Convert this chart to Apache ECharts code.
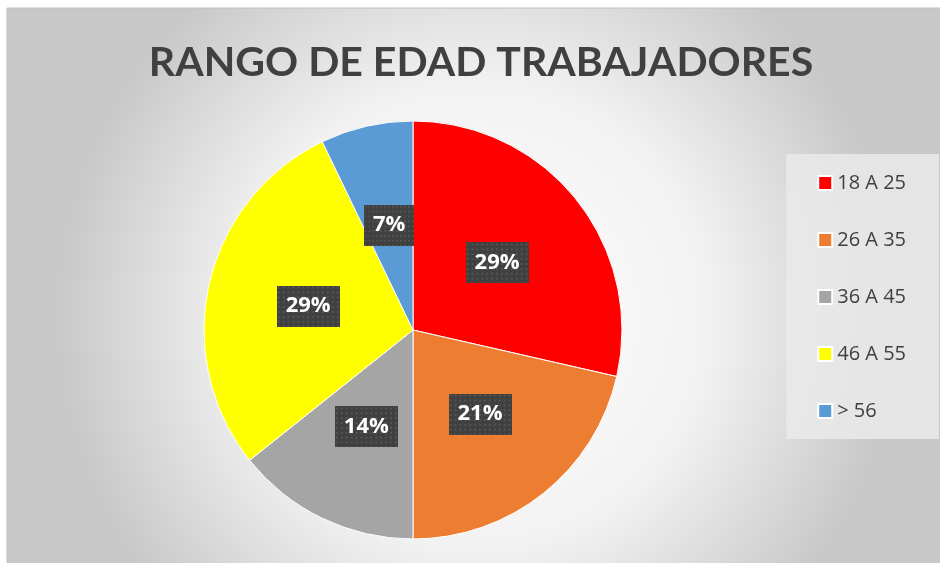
<!DOCTYPE html>
<html>
<head>
<meta charset="utf-8">
<script src="https://cdn.jsdelivr.net/npm/echarts@6/dist/echarts.min.js"></script>
<style>
  html, body { margin: 0; padding: 0; background: #fff; }
  #chart { width: 940px; height: 563px; }
</style>
</head>
<body>
<div id="chart"></div>
<script>
const categories = ['18 A 25', '26 A 35', '36 A 45', '46 A 55', '> 56'];
const values = [4, 3, 2, 4, 1];
const colors = ['#ff0000', '#ed7d31', '#a5a5a5', '#ffff00', '#5b9bd5'];

// dotted dark texture for the data labels
function labelTexture() {
  const c = document.createElement('canvas');
  c.width = 64; c.height = 42;
  const ctx = c.getContext('2d');
  ctx.fillStyle = '#404040';
  ctx.fillRect(0, 0, c.width, c.height);
  ctx.fillStyle = '#555555';
  for (let y = 1; y < c.height; y += 5) {
    for (let x = 1; x < c.width; x += 5) {
      ctx.fillRect(x, y, 2, 2);
    }
  }
  return c;
}

const chartDom = document.getElementById('chart');
const myChart = echarts.init(chartDom);
const option = {
  backgroundColor: '#ffffff',
  graphic: [
    {
      type: 'rect',
      z: -10,
      shape: { x: 7, y: 8, width: 940, height: 560 },
      style: {
        fill: new echarts.graphic.RadialGradient(0.5, 0.55, 0.75, [
          { offset: 0, color: '#ffffff' },
          { offset: 0.55, color: '#f2f2f2' },
          { offset: 1, color: '#c8c8c8' }
        ]),
        stroke: '#c0c0c0',
        lineWidth: 1
      }
    }
  ],
  title: {
    text: 'RANGO DE EDAD TRABAJADORES',
    left: 476,
    textAlign: 'center',
    top: 37,
    textStyle: {
      fontFamily: 'Lato',
      fontWeight: 'bold',
      fontSize: 41,
      color: '#404040'
    }
  },
  legend: {
    orient: 'vertical',
    right: 1,
    top: 154,
    padding: [18, 33, 17, 31],
    backgroundColor: 'rgba(234,234,234,0.85)',
    icon: 'rect',
    itemWidth: 14,
    itemHeight: 14,
    itemGap: 35,
    textStyle: {
      fontFamily: 'Open Sans',
      fontSize: 20,
      lineHeight: 22,
      color: '#404040'
    },
    data: categories
  },
  series: [
    {
      type: 'pie',
      center: [413, 330],
      radius: [0, 209],
      startAngle: 90,
      clockwise: true,
      avoidLabelOverlap: false,
      itemStyle: { borderColor: '#ffffff', borderWidth: 1 },
      label: {
        show: true,
        position: 'inside',
        formatter: p => Math.round(p.percent) + '%',
        fontFamily: 'Open Sans',
        fontWeight: 'bold',
        fontSize: 22,
        lineHeight: 24,
        color: '#ffffff',
        backgroundColor: { image: labelTexture() },
        padding: [9, 9, 8, 9],
        shadowColor: 'rgba(0,0,0,0.45)',
        shadowBlur: 6,
        shadowOffsetX: 2,
        shadowOffsetY: 3
      },
      labelLine: { show: false },
      emphasis: { disabled: true },
      data: categories.map((name, i) => ({
        name: name,
        value: values[i],
        itemStyle: { color: colors[i] }
      }))
    }
  ]
};
option && myChart.setOption(option);
</script>
</body>
</html>
